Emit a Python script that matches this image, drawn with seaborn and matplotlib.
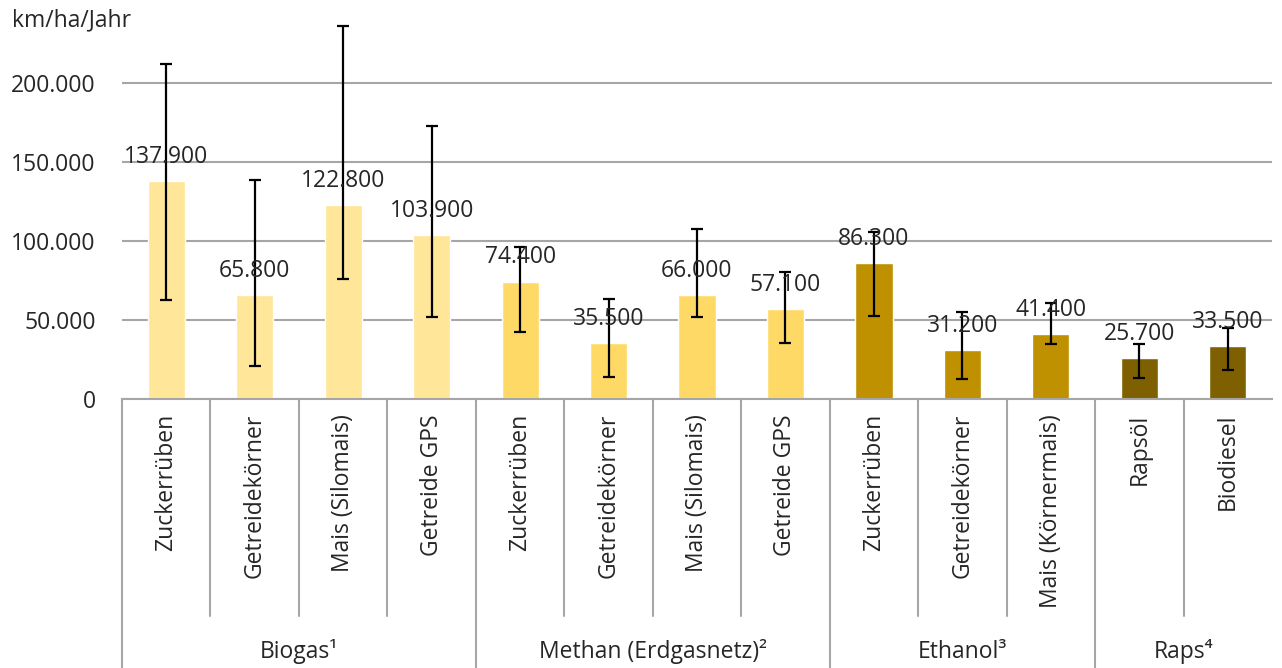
import numpy as np
import pandas as pd
import matplotlib
matplotlib.use('Agg')
import matplotlib.pyplot as plt
import matplotlib.transforms as mtransforms
import seaborn as sns

# Data
crops = ['Zuckerrüben', 'Getreidekörner', 'Mais (Silomais)', 'Getreide GPS',
         'Zuckerrüben', 'Getreidekörner', 'Mais (Silomais)', 'Getreide GPS',
         'Zuckerrüben', 'Getreidekörner', 'Mais (Körnermais)',
         'Rapsöl', 'Biodiesel']
fuels = ['Biogas¹'] * 4 + ['Methan (Erdgasnetz)²'] * 4 + ['Ethanol³'] * 3 + ['Raps⁴'] * 2
km_per_ha = [137900, 65800, 122800, 103900,
             74400, 35500, 66000, 57100,
             86300, 31200, 41400,
             25700, 33500]
err_low = [63000, 20700, 76100, 51800,
           42700, 14200, 51800, 35500,
           52400, 12400, 34600,
           13300, 18400]
err_high = [212100, 138500, 236400, 172800,
            96200, 63200, 107900, 80400,
            105700, 55000, 60700,
            34600, 45200]
fuel_colors = {'Biogas¹': '#FFE699', 'Methan (Erdgasnetz)²': '#FFD966',
               'Ethanol³': '#BF9000', 'Raps⁴': '#7F6000'}

df = pd.DataFrame({'pos': np.arange(len(crops)), 'crop': crops, 'fuel': fuels,
                   'value': km_per_ha, 'lo': err_low, 'hi': err_high})

sns.set_style('white')
plt.rcParams['font.family'] = ['Open Sans', 'DejaVu Sans']
text_col = '#262626'
grid_col = '#A6A6A6'
fs = 16.5

fig = plt.figure(figsize=(12.82, 6.68), dpi=100)
ax = fig.add_axes([122 / 1282, (668 - 399) / 668, (1272 - 122) / 1282, (399 - 20) / 668])

sns.barplot(data=df, x='pos', y='value', hue='fuel', palette=fuel_colors, saturation=1,
            dodge=False, width=0.42, legend=False, ax=ax, native_scale=True)

ax.errorbar(df['pos'], df['value'],
            yerr=[df['value'] - df['lo'], df['hi'] - df['value']],
            fmt='none', ecolor='black', elinewidth=1.6, capsize=4.5, capthick=1.6, zorder=4)

def de_fmt(v):
    return f'{v:,.0f}'.replace(',', '.')

for p, v in zip(df['pos'], df['value']):
    ax.annotate(de_fmt(v), (p, v), xytext=(0, 13), textcoords='offset points',
                ha='center', va='baseline', fontsize=fs, color=text_col, zorder=5)

ax.set_xlim(-0.5, len(crops) - 0.5)
ax.set_ylim(0, 240000)
ax.set_yticks([0, 50000, 100000, 150000, 200000])
ax.set_yticklabels([de_fmt(t) for t in [0, 50000, 100000, 150000, 200000]],
                   fontsize=fs, color=text_col)
ax.tick_params(axis='y', length=0, pad=19)
ax.set_xticks([])
ax.set_xlabel('')
ax.set_ylabel('')
ax.yaxis.grid(True, color=grid_col, linewidth=1.5)
ax.set_axisbelow(True)
for s in ['top', 'right', 'left']:
    ax.spines[s].set_visible(False)
ax.spines['bottom'].set_color(grid_col)
ax.spines['bottom'].set_linewidth(1.5)

# multi-level category axis
trans = mtransforms.blended_transform_factory(ax.transData, ax.transAxes)
h = 399 - 20
inner_bottom = (399 - 616) / h
outer_bottom = (399 - 668) / h
for p, c in zip(df['pos'], df['crop']):
    ax.text(p, (399 - 414) / h, c, transform=trans, rotation=90, ha='center', va='top',
            fontsize=fs, color=text_col)

group_names = list(dict.fromkeys(fuels))
starts = [fuels.index(g) for g in group_names]
ends = [s + fuels.count(g) for s, g in zip(starts, group_names)]
for i in range(len(crops)):
    x = i - 0.5
    y1 = outer_bottom if i in starts else inner_bottom
    ax.plot([x, x], [0, y1], transform=trans, color=grid_col, lw=1.5, clip_on=False)
for g, s, e in zip(group_names, starts, ends):
    ax.text((s + e - 1) / 2, (399 - 652) / h, g, transform=trans, ha='center', va='center',
            fontsize=fs, color=text_col)

fig.text(12 / 1282, 1 - 20 / 668, 'km/ha/Jahr', ha='left', va='center', fontsize=fs, color=text_col)

fig.savefig('out.png', dpi=100)
